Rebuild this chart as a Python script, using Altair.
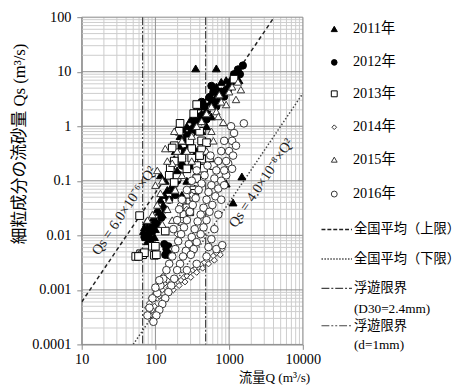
import altair as alt
import pandas as pd

# ---------------- data ----------------
q_2011 = [69, 74, 78, 83, 76, 88, 94, 86, 100, 106, 117, 124, 132, 145, 136, 154, 169, 164, 180,
          197, 186, 210, 229, 216, 237, 252, 267, 284, 302, 321, 341, 363, 398, 423, 450, 494, 525,
          558, 593, 631, 671, 713, 782, 858, 912, 1000, 1097, 1240, 1360, 423, 494, 575, 311, 363,
          267, 229, 117, 341, 352, 671, 1490, 912, 1131, 71, 81, 91, 100, 113, 128, 97, 78]
qs_2011 = [0.012, 0.0093, 0.014, 0.0105, 0.018, 0.015, 0.021, 0.0085, 0.013, 0.030, 0.045, 0.024,
           0.055, 0.068, 0.10, 0.126, 0.083, 0.19, 0.25, 0.155, 0.35, 0.44, 0.29, 0.66, 0.88, 0.54,
           1.0, 0.75, 1.34, 1.0, 1.86, 1.34, 2.3, 1.71, 2.8, 2.0, 3.5, 2.8, 4.3, 3.1, 5.3, 4.0, 6.5,
           4.7, 7.0, 6.0, 8.0, 9.8, 7.0, 0.81, 1.0, 1.51, 0.19, 0.35, 0.10, 0.055, 0.126, 0.072,
           11.5, 11.5, 0.12, 0.089, 0.040, 0.014, 0.012, 0.016, 0.019, 0.027, 0.036, 0.0093, 0.0078]

q_2012 = [1537, 1318, 1166, 1402, 1063, 1240, 970, 858, 782, 713, 575, 612, 541, 464, 423, 398, 341,
          311, 267, 252, 229, 197, 175, 154, 136, 120, 106, 91, 78, 71, 132, 141, 145, 154, 136, 150,
          363, 293, 494, 671, 216, 186]
qs_2012 = [13.0, 11.0, 9.0, 9.0, 6.5, 7.0, 4.7, 3.5, 4.3, 2.8, 5.5, 4.3, 3.4, 2.3, 2.8, 1.51, 1.23,
           0.88, 0.66, 0.35, 0.19, 0.10, 0.068, 0.045, 0.030, 0.021, 0.016, 0.012, 0.010, 0.0093,
           0.0069, 0.0056, 0.0048, 0.0043, 0.0044, 0.0063, 0.81, 0.44, 1.34, 2.3, 0.126, 0.055]

q_2013 = [363, 331, 216, 180, 169, 398, 423, 311, 494, 229, 423, 541, 159, 267, 450, 154, 197, 61,
          180, 363, 331, 341, 293, 267, 244, 229, 136, 91, 97, 63, 54, 67, 71, 59, 100, 103, 1166,
          210, 293, 423, 311, 180, 612, 331, 293, 398, 363]
qs_2013 = [2.5, 1.71, 1.13, 0.44, 0.40, 0.81, 0.54, 0.39, 0.50, 0.26, 0.25, 0.26, 0.17, 0.166, 0.17,
           0.126, 0.115, 0.023, 0.093, 0.11, 0.068, 0.059, 0.041, 0.032, 0.024, 0.018, 0.012, 0.0063,
           0.0043, 0.0046, 0.0041, 0.0044, 0.0048, 0.0041, 0.0063, 0.0044, 7.3, 0.81, 0.54, 0.37,
           0.26, 0.23, 0.19, 0.05, 0.027, 0.29, 0.19]

q_2014 = [154, 169, 186, 204, 223, 244, 267, 293, 321, 352, 386, 423, 464, 509, 558, 612, 671, 736,
          807, 175, 210, 252, 302, 363, 437, 525, 631, 759, 86, 91, 83, 97, 106, 100, 113, 124, 117,
          88, 78, 132, 94, 106, 145, 128, 169, 197, 229, 267, 311, 216]
qs_2014 = [0.0011, 0.0012, 0.0013, 0.0014, 0.0015, 0.0017, 0.0018, 0.0021, 0.0023, 0.0025, 0.0026,
           0.0029, 0.0032, 0.0035, 0.0038, 0.0042, 0.0048, 0.0052, 0.0056, 0.001, 0.0012, 0.0014,
           0.0017, 0.0021, 0.0025, 0.003, 0.0035, 0.0044, 0.00034, 0.00043, 0.00057, 0.0005, 0.0007,
           0.00087, 0.00077, 0.001, 0.0012, 0.0007, 0.00047, 0.0013, 0.00029, 0.00038, 0.0015,
           0.0018, 0.0056, 0.0105, 0.019, 0.030, 0.055, 0.036]

q_2015 = [180, 136, 736, 912, 1240, 832, 612, 117, 169, 154, 106, 124, 145, 197, 229, 311, 363, 423,
          494, 575, 671, 782, 1000, 1097, 1318, 1445, 267, 311, 229, 186, 145, 106, 91, 78, 124, 169,
          494, 575, 713, 100]
qs_2015 = [0.81, 0.39, 3.8, 2.5, 3.1, 1.18, 0.54, 0.059, 0.21, 0.045, 0.155, 0.10, 0.23, 0.35, 0.54,
           0.66, 1.0, 1.23, 1.71, 2.3, 1.86, 2.8, 4.3, 5.3, 6.5, 4.7, 0.35, 0.23, 0.126, 0.068, 0.030,
           0.036, 0.024, 0.019, 0.016, 0.019, 0.35, 0.81, 1.51, 0.083]

q_2016 = [1063, 1166, 1097, 1240, 1000, 1131, 970, 1097, 912, 858, 1585,
          782, 713, 671, 631, 575, 525, 494, 450, 411, 374, 341, 311, 284, 259, 237, 216, 197, 180,
          164, 150, 136, 124, 113, 103, 94,
          558, 509, 464, 423, 386, 352, 321, 293, 267, 244, 223, 204, 186, 169, 154, 141, 128, 117, 106,
          912, 858, 782, 713, 651, 593, 541, 494, 450, 411, 363, 331, 302,
          229, 210, 267, 311, 363, 197, 175,
          91, 83, 100, 78, 113,
          267, 363, 494, 671, 807,
          858, 782, 713, 631, 575, 525]
qs_2016 = [1.0, 0.75, 0.54, 0.44, 0.35, 0.29, 0.21, 0.166, 0.126, 0.54, 1.13,
           0.35, 0.23, 0.155, 0.11, 0.083, 0.062, 0.045, 0.032, 0.024, 0.018, 0.013, 0.0093, 0.0069,
           0.0052, 0.0041, 0.003, 0.0023, 0.0016, 0.0012, 0.00091, 0.0007, 0.00055, 0.00043, 0.00034,
           0.00026,
           0.29, 0.19, 0.126, 0.089, 0.068, 0.048, 0.036, 0.027, 0.019, 0.014, 0.0105, 0.0078, 0.0056,
           0.0041, 0.003, 0.0023, 0.0016, 0.0012, 0.00087,
           0.23, 0.155, 0.10, 0.072, 0.052, 0.036, 0.027, 0.019, 0.014, 0.0105, 0.0075, 0.0056, 0.0044,
           0.045, 0.030, 0.068, 0.10, 0.155, 0.019, 0.013,
           0.0007, 0.00047, 0.0011, 0.00034, 0.0015,
           0.0023, 0.003, 0.0041, 0.0056, 0.0066,
           0.083, 0.045, 0.024, 0.013, 0.0085, 0.0061]

# reference lines (national averages) : end points
upper_q = [10, 4082]
upper_qs = [0.0006, 100]
lower_q = [50, 10000]
lower_qs = [0.0001, 4.0]
# suspension limits (vertical lines)
limit_d30_q = [480]
limit_d1_q = [67]

x_ticks = [10, 100, 1000, 10000]
y_ticks = [0.0001, 0.001, 0.01, 0.1, 1, 10, 100]
x_minor = [k * 10 ** n for n in (1, 2, 3) for k in range(2, 10)]
y_minor = [k * 10.0 ** n for n in (-4, -3, -2, -1, 0, 1) for k in range(2, 10)]

# ---------------- styling ----------------
SERIF = "Liberation Serif, Noto Sans CJK JP, serif"
SANS = "Noto Sans CJK JP, sans-serif"

xs = alt.Scale(type="log", domain=[10, 10000], nice=False)
ys = alt.Scale(type="log", domain=[0.0001, 100], nice=False)

x_axis = alt.Axis(values=x_ticks, format="~g", title=None, grid=False, labelFont=SERIF,
                  labelFontSize=14.5, labelColor="black", tickSize=5, labelPadding=3,
                  domainColor="#888888", tickColor="#888888", labelFlush=False)
y_axis = alt.Axis(values=y_ticks, format="~g", title=None, grid=False, labelFont=SERIF,
                  labelFontSize=14.5, labelColor="black", tickSize=5, labelPadding=6,
                  domainColor="#888888", tickColor="#888888", labelFlush=False)

X = lambda f: alt.X(f"{f}:Q", scale=xs, axis=x_axis)
Y = lambda f: alt.Y(f"{f}:Q", scale=ys, axis=y_axis)

layers = []
layers.append(alt.Chart(pd.DataFrame({"gx": x_minor})).mark_rule(color="#cccccc", strokeWidth=1).encode(x=X("gx")))
layers.append(alt.Chart(pd.DataFrame({"gy": y_minor})).mark_rule(color="#cccccc", strokeWidth=1).encode(y=Y("gy")))
layers.append(alt.Chart(pd.DataFrame({"gx": x_ticks})).mark_rule(color="#8f8f8f", strokeWidth=1).encode(x=X("gx")))
layers.append(alt.Chart(pd.DataFrame({"gy": y_ticks})).mark_rule(color="#8f8f8f", strokeWidth=1).encode(y=Y("gy")))

# reference lines
layers.append(alt.Chart(pd.DataFrame({"Q": upper_q, "Qs": upper_qs})).mark_line(
    color="#222222", strokeWidth=1.5, strokeDash=[4, 3], clip=True).encode(x=X("Q"), y=Y("Qs")))
layers.append(alt.Chart(pd.DataFrame({"Q": lower_q, "Qs": lower_qs})).mark_line(
    color="#444444", strokeWidth=1.5, strokeDash=[1.5, 2], clip=True).encode(x=X("Q"), y=Y("Qs")))
layers.append(alt.Chart(pd.DataFrame({"Q": limit_d30_q})).mark_rule(
    color="#444444", strokeWidth=1.2, strokeDash=[8, 2, 2, 2]).encode(x=X("Q")))
layers.append(alt.Chart(pd.DataFrame({"Q": limit_d1_q})).mark_rule(
    color="#444444", strokeWidth=1.2, strokeDash=[8, 2, 2, 2, 2, 2]).encode(x=X("Q")))

series = [
    ("2011年", q_2011, qs_2011, "triangle-up", "black", "black", 65),
    ("2012年", q_2012, qs_2012, "circle", "black", "black", 55),
    ("2013年", q_2013, qs_2013, "square", "white", "black", 60),
    ("2014年", q_2014, qs_2014, "diamond", "white", "#333333", 38),
    ("2015年", q_2015, qs_2015, "triangle-up", "white", "#333333", 58),
    ("2016年", q_2016, qs_2016, "circle", "white", "#333333", 60),
]
for name, q, qs, shape, fill, stroke, size in series:
    df = pd.DataFrame({"Q": q, "Qs": qs, "year": name})
    layers.append(alt.Chart(df).mark_point(shape=shape, filled=True, fill=fill, stroke=stroke,
                                           strokeWidth=1, size=size, opacity=1).encode(x=X("Q"), y=Y("Qs")))

# line labels
lab = pd.DataFrame({"Q": [38, 2754], "Qs": [0.028, 0.09],
                    "t": ["Qs = 6.0×10⁻⁶×Q²", "Qs = 4.0×10⁻⁸×Q²"]})
layers.append(alt.Chart(lab).mark_text(angle=304, font=SERIF, fontSize=14.5, color="#222222",
                                       align="center", baseline="middle").encode(
    x=X("Q"), y=Y("Qs"), text="t:N"))

one = alt.Data(values=[{"a": 1}])

def txt(s, x, y, font=SERIF, size=14.5, align="left", angle=0):
    kw = dict(font=font, fontSize=size, color="black", align=align, baseline="middle")
    if angle:
        kw["angle"] = angle
    return alt.Chart(one).mark_text(**kw).encode(x=alt.value(x), y=alt.value(y), text=alt.value(s))

# axis titles
layers.append(txt("細粒成分の流砂量 Qs (m³/s)", -63, 129, font=SERIF, size=17, align="center", angle=270))
layers.append(txt("流量Q (m³/s)", 160, 367, font=SERIF, size=13.5))

# legend
leg_y = [12, 46, 78, 112, 145, 180]
for (name, q, qs, shape, fill, stroke, size), yy in zip(series, leg_y):
    layers.append(alt.Chart(one).mark_point(shape=shape, filled=True, fill=fill, stroke=stroke,
                                            strokeWidth=1, size=size * 0.6, opacity=1).encode(
        x=alt.value(257), y=alt.value(yy)))
    layers.append(txt(name, 276, yy))

line_items = [
    ("全国平均（上限）", 216, "#222222", [4, 2], 1.5),
    ("全国平均（下限）", 246, "#444444", [1.5, 1.5], 1.5),
    ("浮遊限界", 276, "#444444", [8, 2, 2, 2], 1.2),
    ("浮遊限界", 314, "#444444", [8, 2, 2, 2, 2, 2], 1.2),
]
for name, yy, col, dash, w in line_items:
    layers.append(alt.Chart(one).mark_rule(color=col, strokeDash=dash, strokeWidth=w).encode(
        x=alt.value(244), x2=alt.value(275), y=alt.value(yy)))
    layers.append(txt(name, 277, yy, font=SANS, size=13.5))
layers.append(txt("(D30=2.4mm)", 277, 297, size=13.5))
layers.append(txt("(d=1mm)", 277, 334, size=13.5))

chart = alt.layer(*layers).properties(
    width=225, height=333,
    autosize=alt.AutoSizeParams(type="none"),
    padding={"left": 75, "top": 6, "right": 163, "bottom": 40},
).configure_view(stroke="#8f8f8f").configure(background="white")

chart.save("out.html", embed_options={"renderer": "svg", "actions": False})
